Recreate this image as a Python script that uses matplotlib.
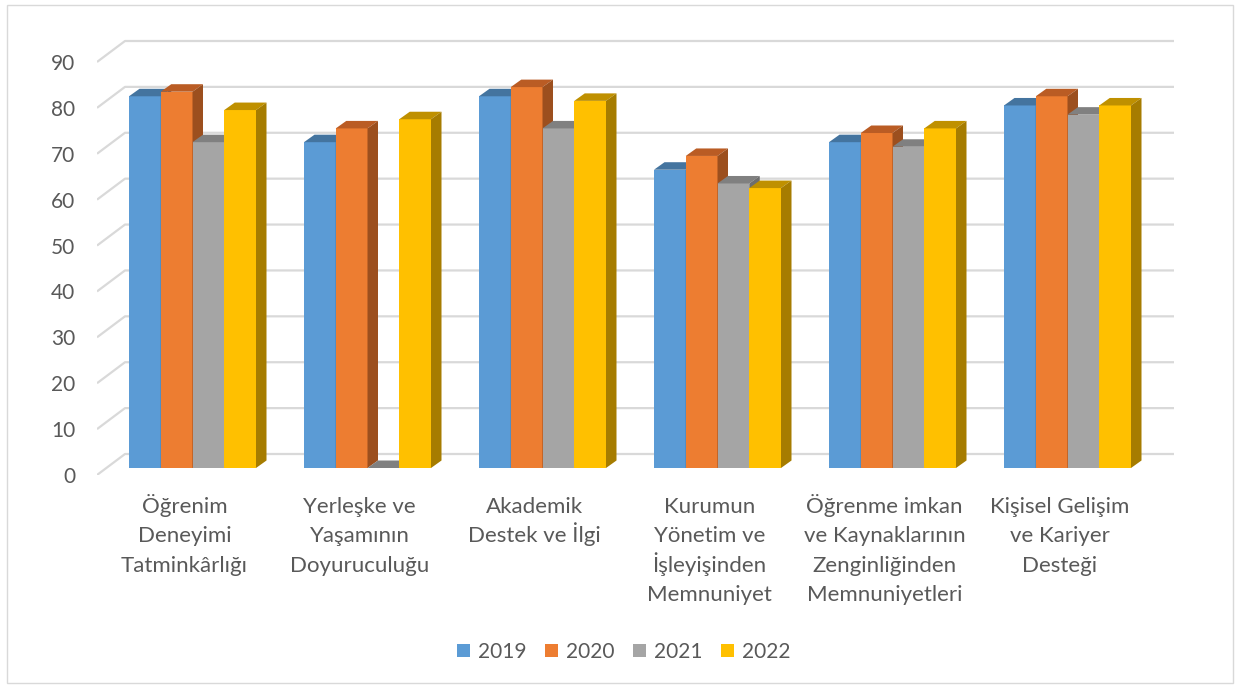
import matplotlib.pyplot as plt
from matplotlib.patches import Polygon, Rectangle

plt.rcParams['font.family'] = ['Lato', 'DejaVu Sans']

kategoriler = [
    "Öğrenim\nDeneyimi\nTatminkârlığı",
    "Yerleşke ve\nYaşamının\nDoyuruculuğu",
    "Akademik\nDestek ve İlgi",
    "Kurumun\nYönetim ve\nİşleyişinden\nMemnuniyet",
    "Öğrenme imkan\nve Kaynaklarının\nZenginliğinden\nMemnuniyetleri",
    "Kişisel Gelişim\nve Kariyer\nDesteği",
]
yillar = ["2019", "2020", "2021", "2022"]
d2019 = [81, 71, 81, 65, 71, 79]
d2020 = [82, 74, 83, 68, 73, 81]
d2021 = [71, 0, 74, 62, 70, 77]
d2022 = [78, 76, 80, 61, 74, 79]
y_ticks = [0, 10, 20, 30, 40, 50, 60, 70, 80, 90]

seriler = [d2019, d2020, d2021, d2022]
on_renk = ["#5B9BD5", "#ED7D31", "#A5A5A5", "#FFC000"]
ust_renk = ["#44749F", "#BA5C24", "#808080", "#BF9000"]
yan_renk = ["#3A6690", "#9C4F1E", "#6E6E6E", "#A67C00"]

W, H, DPI = 1239, 688, 100
fig = plt.figure(figsize=(W / DPI, H / DPI), dpi=DPI)

# pixel geometry of the 3d box (oblique projection)
px_unit = 4.589      # pixels per value unit
px_cat = 175.0       # pixels per category
x0_px = 192.5        # front face center of first group
y0_px = 468.0        # bar base
left_px, right_px = 97, 1174
ylo, yhi = -1.55, 95.0
bot_px = y0_px - ylo * px_unit
top_px = y0_px - yhi * px_unit

ax = fig.add_axes([left_px / W, (H - bot_px) / H,
                   (right_px - left_px) / W, (bot_px - top_px) / H])
ax.set_xlim((left_px - x0_px) / px_cat, (right_px - x0_px) / px_cat)
ax.set_ylim(ylo, yhi)
for s in ax.spines.values():
    s.set_visible(False)

# grid: diagonal on the floor/left wall + back wall lines
gx_front = (left_px - x0_px) / px_cat
gx_back = (125 - x0_px) / px_cat
gx_end = (right_px - x0_px) / px_cat
front_off = -1.525
back_off = 3.05
for v in y_ticks:
    ax.plot([gx_front, gx_back, gx_end], [v + front_off, v + back_off, v + back_off],
            color="#D9D9D9", lw=1.6, zorder=1, solid_capstyle='butt')

w = 31.75 / px_cat
dx = 10.5 / px_cat
dy = 7.5 / px_unit
for j, vals in enumerate(seriler):
    xs = [i - 2 * w + j * w for i in range(len(vals))]
    ax.bar(xs, vals, w, align='edge', color=on_renk[j], zorder=3 + j,
           label=yillar[j], linewidth=0)
    for xl, h in zip(xs, vals):
        xr = xl + w
        ax.add_patch(Polygon([(xl, h), (xr, h), (xr + dx, h + dy), (xl + dx, h + dy)],
                             closed=True, fc=ust_renk[j], ec='none', zorder=3 + j))
        ax.add_patch(Polygon([(xr, 0), (xr + dx, dy), (xr + dx, h + dy), (xr, h)],
                             closed=True, fc=yan_renk[j], ec='none', zorder=3 + j))

ax.set_yticks([v + front_off for v in y_ticks], labels=[str(v) for v in y_ticks])
ax.tick_params(axis='y', length=0, pad=15.5, labelsize=15, labelcolor="#595959")
ax.set_xticks([])

# category labels, one line at a time so spacing stays even
ilk_satir = (513 - bot_px) * 72 / DPI   # points below axes bottom
satir_araligi = 29.3 * 72 / DPI
for i, kat in enumerate(kategoriler):
    for k, satir in enumerate(kat.split("\n")):
        ax.annotate(satir, xy=(i - 8 / px_cat, 0), xycoords=('data', 'axes fraction'),
                    xytext=(0, -(ilk_satir + k * satir_araligi)), textcoords='offset points',
                    ha='center', va='baseline', fontsize=16, color="#595959")

fig.legend(loc='center', bbox_to_anchor=(624 / W, (H - 652) / H), ncol=4,
           frameon=False, fontsize=15, labelcolor="#595959",
           handlelength=0.62, handleheight=0.62, handletextpad=0.38,
           columnspacing=0.9)

fig.patches.append(Rectangle((7 / W, 5 / H), (1233 - 7) / W, (683 - 5) / H,
                             transform=fig.transFigure, fill=False,
                             edgecolor="#D9D9D9", lw=1))

fig.savefig("out.png", dpi=DPI)
